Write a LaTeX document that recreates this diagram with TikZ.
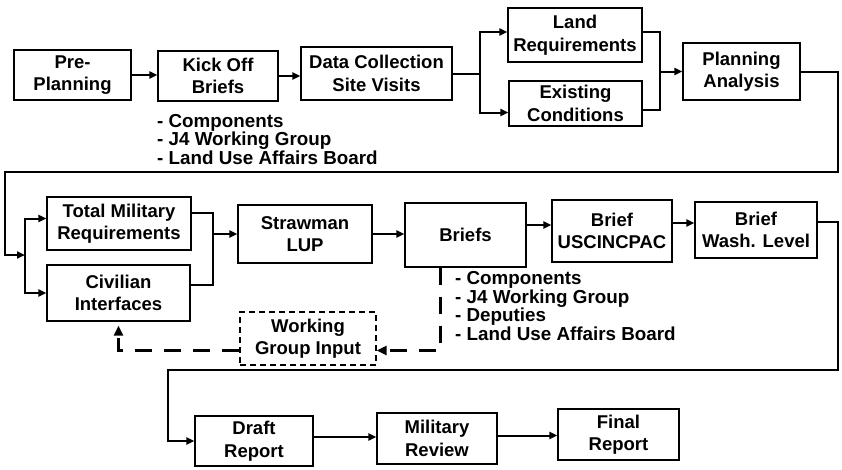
\documentclass[tikz,border=0pt]{standalone}
\usepackage{fontspec}
\setmainfont{Liberation Sans}
\usetikzlibrary{arrows.meta,calc}
\begin{document}
\begin{tikzpicture}[x=1pt,y=-1pt,
  every node/.style={font=\fontsize{18.5}{22.5}\selectfont\bfseries},
  box/.style={draw,line width=1.2pt,align=center,inner sep=0pt},
  dbox/.style={box,dash pattern=on 6pt off 4pt},
  conn/.style={line width=2pt},
  arr/.style={conn,-{Triangle[length=8pt,width=7pt]}},
  darr/.style={line width=3pt,dash pattern=on 17pt off 12pt,-{Triangle[length=10pt,width=9pt]}},
  lst/.style={align=left,inner sep=0pt,anchor=north west}
]
\useasboundingbox (0,0) rectangle (842,469);

% row 1
\node[box,minimum width=117pt,minimum height=50pt] (pre) at (72.5,75) {Pre-\\Planning};
\node[box,minimum width=120pt,minimum height=50pt] (kick) at (218,76) {Kick Off\\Briefs};
\node[box,minimum width=151pt,minimum height=53pt] (data) at (376.5,73.5) {Data Collection\\Site Visits};
\node[box,minimum width=134pt,minimum height=54pt] (land) at (575,35) {Land\\Requirements};
\node[box,minimum width=133pt,minimum height=45pt] (exist) at (575.5,103.5) {Existing\\Conditions};
\node[box,minimum width=117pt,minimum height=57pt] (plan) at (741.5,71.5) {Planning\\Analysis};

\node[lst,font=\fontsize{18.8}{16.5}\selectfont\bfseries] (kicklist) at (157,114) {- Components\\- J4 Working Group\\- Land Use Affairs Board};

% row 2
\node[box,minimum width=144pt,minimum height=53pt] (total) at (119,223.5) {Total Military\\Requirements};
\node[box,minimum width=143pt,minimum height=56pt] (civ) at (118.5,293) {Civilian\\Interfaces};
\node[box,minimum width=134pt,minimum height=58pt] (straw) at (305,234) {Strawman\\LUP};
\node[box,minimum width=121pt,minimum height=64pt] (briefs) at (465.5,235) {Briefs};
\node[box,minimum width=120pt,minimum height=62pt] (usc) at (612,231) {Brief\\USCINCPAC};
\node[box,minimum width=122pt,minimum height=56pt] (wash) at (756,230) {Brief\\Wash. Level};
\node[dbox,minimum width=136pt,minimum height=53pt] (wgi) at (308,338.5) {Working\\Group Input};

\node[lst,font=\fontsize{18.8}{18.8}\selectfont\bfseries] (brieflist) at (455,271) {- Components\\- J4 Working Group\\- Deputies\\- Land Use Affairs Board};

% row 3
\node[box,minimum width=118pt,minimum height=50pt] (draft) at (254,441) {Draft\\Report};
\node[box,minimum width=120pt,minimum height=51pt] (mil) at (437,438.5) {Military\\Review};
\node[box,minimum width=121pt,minimum height=51pt] (final) at (618.5,434.5) {Final\\Report};

% coordinates
\coordinate (split1) at (480,73.5);
\coordinate (merge1) at (660,71.5);
\coordinate (c1) at (838,172);
\coordinate (c2) at (5,172);
\coordinate (split2) at (25,255);
\coordinate (merge2) at (213,234);
\coordinate (c3) at (838,370);
\coordinate (c4) at (168,370);

% row 1 connectors
\draw[arr] (pre.east) -- (pre.east -| kick.west);
\draw[arr] (kick.east) -- (kick.east -| data.west);
\draw[conn] (data.east) -- (split1);
\draw[arr] (split1) |- ([yshift=3pt]land.west);
\draw[arr] (split1) |- ([yshift=-9pt]exist.west);
\draw[conn] ([yshift=3pt]land.east) -| (merge1);
\draw[conn] ([yshift=-6pt]exist.east) -| (merge1);
\draw[arr] (merge1) -- (merge1 -| plan.west);

% to row 2
\draw[arr] (plan.east) -| (c1) -- (c2) |- (split2);
\draw[arr] (split2) |- ([yshift=5pt]total.west);
\draw[arr] (split2) |- (civ.west);
\draw[conn] ([yshift=11pt]total.east) -| (merge2);
\draw[conn] ([yshift=8pt]civ.east) -| (merge2);
\draw[arr] (merge2) -- (merge2 -| straw.west);
\draw[arr] (straw.east) -- (straw.east -| briefs.west);
\draw[arr] ([yshift=10pt]briefs.east) -- ([yshift=10pt]briefs.east -| usc.west);
\draw[arr] ([yshift=8pt]usc.east) -- ([yshift=8pt]usc.east -| wash.west);

% dashed feedback
\draw[darr] ([xshift=-25pt]briefs.south) |- ([yshift=-12pt]wgi.east);
\draw[darr,shorten >=4pt] ([yshift=-12pt]wgi.west) -| (civ.south);

% to row 3
\draw[arr] ([yshift=8pt]wash.east) -| (c3) -- (c4) |- (draft.west);
\draw[arr] ([yshift=4pt]draft.east) -- ([yshift=4pt]draft.east -| mil.west);
\draw[arr] ([yshift=3pt]mil.east) -- ([yshift=3pt]mil.east -| final.west);
\end{tikzpicture}
\end{document}
